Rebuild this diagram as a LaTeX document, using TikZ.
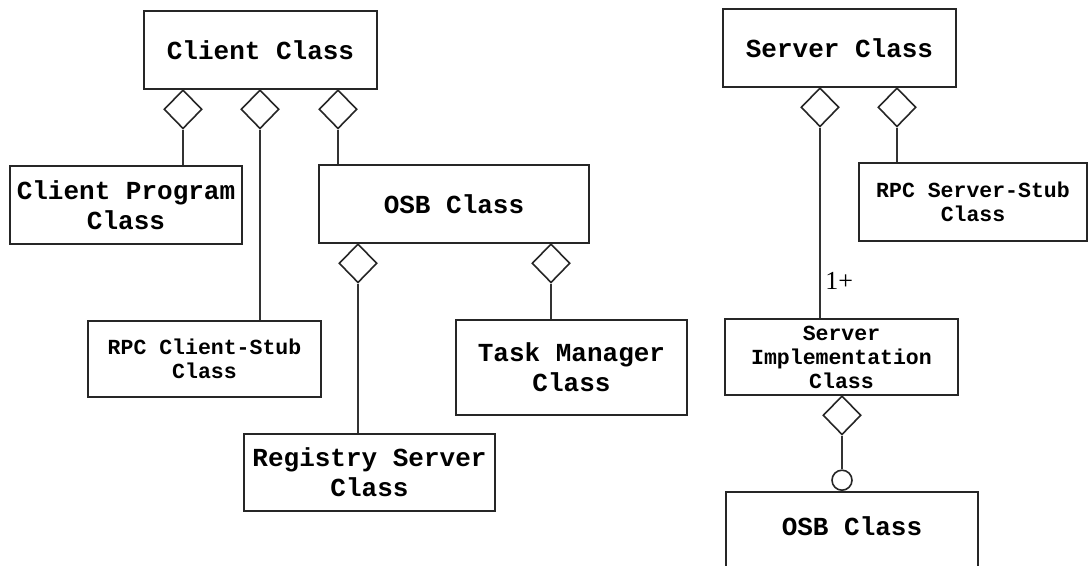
\documentclass[tikz,border=0pt]{standalone}
\usepackage{fontspec}
\setmainfont{Liberation Serif}
\setmonofont{Liberation Mono}
\usetikzlibrary{shapes.geometric}
\begin{document}
\begin{tikzpicture}[x=0.5pt, y=-0.5pt,
  clase/.style={draw=black!85, line width=0.8pt, align=center, inner sep=0pt, font=\ttfamily\bfseries\fontsize{13}{15}\selectfont},
  chica/.style={clase, font=\ttfamily\bfseries\fontsize{10.75}{12}\selectfont},
  rombo/.style={diamond, draw=black!85, line width=0.8pt, inner sep=0pt, minimum width=19pt, minimum height=19.5pt, anchor=north},
  enlace/.style={draw=black!80, line width=0.6pt}]
        \useasboundingbox (0,0) rectangle (1088,566);
        \clip (0,0) rectangle (1088,566);
        \fill[white] (0,0) rectangle (1088,566);
        % lado cliente
        \node[clase, minimum width=116.5pt, minimum height=39pt] (cliente) at (260.5,50) {Client Class};
        \node[clase, minimum width=116pt, minimum height=39pt] (programa) at (126,205) {Client Program\\Class};
        \node[clase, minimum width=135pt, minimum height=39pt] (osbc) at (454,204) {OSB Class};
        \node[chica, minimum width=116.5pt, minimum height=38pt] (stubc) at (204.5,359) {RPC Client-Stub\\Class};
        \node[clase, minimum width=125.5pt, minimum height=38.5pt] (registro) at (369.5,472.5) {Registry Server\\Class};
        \node[clase, minimum width=115.5pt, minimum height=47.5pt] (tareas) at (571.5,367.5) {Task Manager\\Class};
        \node[rombo] (r1) at (183,89) {};
        \node[rombo] (r2) at (260,89) {};
        \node[rombo] (r3) at (338,89) {};
        \node[rombo] (r4) at (358,243) {};
        \node[rombo] (r5) at (551,243) {};
        \draw[enlace] (r1.south) -- (r1.south |- programa.north);
        \draw[enlace] (r2.south) -- (r2.south |- stubc.north);
        \draw[enlace] (r3.south) -- (r3.south |- osbc.north);
        \draw[enlace] (r4.south) -- (r4.south |- registro.north);
        \draw[enlace] (r5.south) -- (r5.south |- tareas.north);
        % lado servidor
        \node[clase, minimum width=116.5pt, minimum height=39pt] (servidor) at (839.5,48) {Server Class};
        \node[chica, minimum width=114pt, minimum height=39pt] (stubs) at (973,202) {RPC Server-Stub\\Class};
        \node[chica, minimum width=116.5pt, minimum height=38pt] (impl) at (841.5,357) {Server\\Implementation\\Class};
        \node[clase, minimum width=126pt, anchor=north, inner ysep=12.5pt, text depth=30pt] (osbs) at (852,491) {OSB Class};
        \node[rombo] (r6) at (820,87) {};
        \node[rombo] (r7) at (897,87) {};
        \node[rombo] (r8) at (842,395) {};
        \node[circle, draw=black!85, line width=0.8pt, minimum size=10pt, inner sep=0pt, anchor=south] (aro) at (842,491) {};
        \draw[enlace] (r6.south) -- (r6.south |- impl.north);
        \draw[enlace] (r7.south) -- (r7.south |- stubs.north);
        \draw[enlace] (r8.south) -- (aro.north);
        % multiplicidad
        \node[anchor=south west, inner sep=0pt, font=\fontsize{13}{15}\selectfont] (mult) at (825,290) {1+};
    \end{tikzpicture}
\end{document}
